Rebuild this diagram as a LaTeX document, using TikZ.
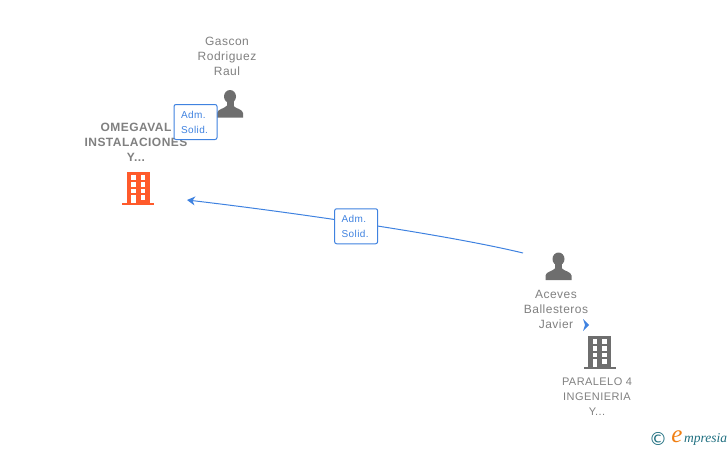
\documentclass[tikz,border=0pt]{standalone}
\usepackage{fontspec}
\setmainfont[LetterSpace=4]{Liberation Sans}
\newfontfamily\logofont{Liberation Serif}
\newfontfamily\copyfont{DejaVu Sans}
\usetikzlibrary{shapes,arrows.meta}
\definecolor{labelgrey}{HTML}{808080}
\definecolor{icongrey}{HTML}{6E6E6E}
\definecolor{linkblue}{HTML}{3F82E0}
\definecolor{mainorange}{HTML}{FF5A2B}
\definecolor{logoteal}{HTML}{1F6F80}
\definecolor{logoorange}{HTML}{F07F13}
\tikzstyle{nametext} = [text=labelgrey, align=center, font=\fontsize{12}{15}\selectfont]
\tikzstyle{mainname} = [nametext, font=\fontsize{12}{15}\selectfont\bfseries]
\tikzstyle{firmname} = [nametext, font=\fontsize{11}{15}\selectfont]
\tikzstyle{badge} = [rectangle, draw=linkblue, fill=white, rounded corners=2pt, line width=1pt,
    text=linkblue, align=left, text width=43pt, minimum height=35pt, inner sep=0pt,
    font=\fontsize{10}{15}\selectfont]
\tikzstyle{icon} = [rectangle, minimum width=27pt, minimum height=27pt, inner sep=0pt]
\tikzstyle{line} = [draw=linkblue, line width=1pt, -{Stealth[length=8pt,width=9pt,inset=2.5pt]}]
\tikzset{
  personicon/.pic={
    \fill [icongrey] (0,-7.5) ellipse (6 and 6.5);
    \fill [icongrey] (-3.5,-4) rectangle (3.5,3);
    \fill [icongrey] (-13,13.5) -- (-13,9) .. controls (-12.5,5) and (-6,5) .. (-3,1.5)
        -- (3,1.5) .. controls (6,5) and (12.5,5) .. (13,9) -- (13,13.5) -- cycle;
  },
  buildingicon/.pic={
    \fill [pic actions] (-11.5,-16.5) rectangle (11.5,15);
    \fill [pic actions] (-16,14.5) rectangle (16,17);
    \foreach \y in {-13,-6,0.5} {
      \fill [white] (-7,\y) rectangle +(4.5,4.5);
      \fill [white] (2.5,\y) rectangle +(4.5,4.5);
    }
    \fill [white] (-7,7) rectangle (-2.5,14.5);
    \fill [white] (2.5,7) rectangle (7,11.5);
  }
}
\begin{document}
\begin{tikzpicture}[x=1pt, y=-1pt, node distance = 15pt]
    \useasboundingbox (0,0) rectangle (728,450);

    % Place nodes
    \node [mainname] (omegaval) at (136,142) {OMEGAVAL\\INSTALACIONES\\Y...};
    \node [icon, below of=omegaval, node distance=46pt, xshift=2pt] (omegavalicon) {};
    \node [nametext] (gascon) at (227,56) {Gascon\\Rodriguez\\Raul};
    \node [icon, below of=gascon, node distance=48pt, xshift=3pt] (gasconicon) {};
    \node [icon] (acevesicon) at (558.5,266.5) {};
    \node [nametext, below of=acevesicon, node distance=42.5pt, xshift=-2.5pt] (aceves) {Aceves\\Ballesteros\\Javier};
    \node [icon] (paraleloicon) at (599.5,352) {};
    \node [firmname, below of=paraleloicon, node distance=45pt, xshift=-2.5pt] (paralelo) {PARALELO 4\\INGENIERIA\\Y...};
    \coordinate [right of=omegavalicon, node distance=49pt, yshift=-12pt] (omegavalin);
    \coordinate [left of=acevesicon, node distance=35.5pt, yshift=13.5pt] (acevesout);
    \coordinate (more) at (586,325);

    % Draw icons
    \pic [mainorange] at (omegavalicon) {buildingicon};
    \pic [icongrey] at (paraleloicon) {buildingicon};
    \pic at (gasconicon) {personicon};
    \pic at (acevesicon) {personicon};
    \fill [linkblue] ([xshift=-3pt,yshift=-6pt]more) -- ([xshift=3pt]more)
        -- ([xshift=-3pt,yshift=6pt]more) -- ([xshift=-1pt]more) -- cycle;

    % Draw edges
    \node [badge] (gasconrole) at (195.5,122) {\hspace{7pt}Adm.\\\hspace{7pt}Solid.};
    \path [line] (acevesout) .. controls (440,233) and (273,210) ..
        node [badge, yshift=-3.5pt] (acevesrole) {\hspace{7pt}Adm.\\\hspace{7pt}Solid.} (omegavalin);

    % Logo
    \node [inner sep=0pt, text=logoteal, font=\copyfont\fontsize{18}{18}\selectfont] (logoc) at (658,439) {©};
    \node [inner sep=0pt, text=logoorange, font=\logofont\itshape\fontsize{25}{25}\selectfont] (logoe) at (677,437) {e};
    \node [inner sep=0pt, anchor=west, text=logoteal, font=\logofont\itshape\fontsize{13.5}{14}\selectfont] (logotext) at (684,439) {mpresia};
\end{tikzpicture}
\end{document}
